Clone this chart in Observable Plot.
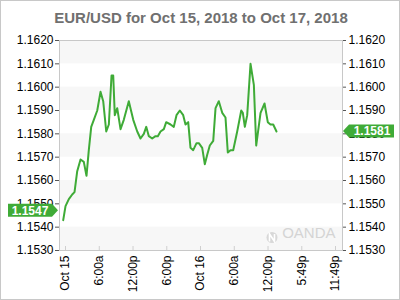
<!DOCTYPE html>
<html>
<head>
<meta charset="utf-8">
<script src="https://cdn.jsdelivr.net/npm/d3@7"></script>
<script src="https://cdn.jsdelivr.net/npm/@observablehq/plot@0.6"></script>
<style>
  html, body { margin: 0; padding: 0; background: #fff; }
  #chart { width: 400px; height: 300px; }
</style>
</head>
<body>
<div id="chart"></div>
<script>
// ---- data (hours since Oct 15 00:00, EUR/USD rate) ----
const title = "EUR/USD for Oct 15, 2018 to Oct 17, 2018";
const hours = [-0.41, 0.0, 0.59, 1.19, 1.6, 2.08, 2.67, 3.25, 3.73, 4.14, 4.57, 5.03, 5.64, 6.22, 6.7, 7.24, 7.7, 8.18, 8.48, 8.76, 9.19, 9.78, 10.36, 11.25, 12.04, 12.75, 13.33, 13.92, 14.35, 14.81, 15.41, 16.0, 16.41, 16.89, 17.48, 17.9, 18.67, 19.25, 19.73, 20.32, 20.92, 21.33, 21.81, 22.22, 22.7, 23.29, 23.7, 24.3, 24.76, 25.19, 25.65, 26.26, 26.67, 27.25, 27.86, 28.44, 28.85, 29.33, 29.81, 30.52, 31.24, 31.52, 31.88, 32.3, 32.89, 33.48, 33.9, 34.67, 35.38, 35.96, 36.44, 36.92, 37.51];
const rates = [1.1543, 1.1549, 1.1552, 1.1554, 1.1555, 1.1564, 1.1569, 1.1568, 1.1562, 1.1573, 1.1583, 1.1586, 1.1590, 1.1598, 1.1594, 1.1581, 1.1584, 1.1605, 1.1605, 1.1588, 1.1591, 1.1582, 1.1586, 1.1594, 1.1586, 1.1581, 1.1578, 1.1580, 1.1583, 1.1579, 1.1578, 1.1579, 1.1579, 1.1581, 1.1582, 1.1585, 1.1584, 1.1583, 1.1588, 1.1590, 1.1588, 1.1584, 1.1585, 1.1574, 1.1573, 1.1576, 1.1576, 1.1574, 1.1567, 1.1571, 1.1575, 1.1577, 1.1591, 1.1594, 1.1589, 1.1587, 1.1572, 1.1573, 1.1573, 1.1581, 1.1590, 1.1589, 1.1583, 1.1588, 1.1610, 1.1601, 1.1575, 1.1589, 1.1593, 1.1585, 1.1584, 1.1584, 1.1581];
const openRate = 1.1547;
const lastRate = 1.1581;
const xTicks = [0, 6, 12, 18, 24, 30, 36, 42, 48];
const xLabels = ["Oct 15", "6:00a", "12:00p", "6:00p", "Oct 16", "6:00a", "12:00p", "5:49p", "11:49p"];
const yTicks = [1.1530, 1.1540, 1.1550, 1.1560, 1.1570, 1.1580, 1.1590, 1.1600, 1.1610, 1.1620];
const xDomain = [-1.07, 49.24];
const yDomain = [1.1530, 1.1620];

const data = hours.map((h, i) => ({h, v: rates[i]}));
const bands = yTicks.slice(0, -1).map((t, i) => ({y1: t, y2: yTicks[i + 1], i})).filter(d => d.i % 2 === 0);

const green = "#3fab37";
const font = "'Liberation Sans', Arial, Helvetica, sans-serif";

const plot = Plot.plot({
  width: 400,
  height: 300,
  marginTop: 40,
  marginBottom: 50,
  marginLeft: 59,
  marginRight: 58,
  style: {fontFamily: font, fontSize: "12px", color: "#000", background: "#fff", overflow: "visible"},
  x: {domain: xDomain, label: null},
  y: {domain: yDomain, label: null},
  marks: [
    Plot.rect(bands, {y1: "y1", y2: "y2", fill: "#f7f7f7"}),
    Plot.text(["OANDA"], {frameAnchor: "bottom-right", textAnchor: "end", dx: -7, dy: -12.5, fill: "#d4d4d4", fontSize: 15}),
    Plot.ruleX(xTicks, {insetTop: 206, stroke: "#cfcfcf"}),
    Plot.frame({stroke: "#c8c8c8"}),
    Plot.axisY(yTicks, {anchor: "left", tickSize: 4, tickPadding: 2, stroke: "#555", tickFormat: d => d.toFixed(4), label: null}),
    Plot.axisY(yTicks, {anchor: "right", tickSize: 3, tickPadding: 3, stroke: "#555", tickFormat: d => d.toFixed(4), label: null}),
    Plot.axisX(xTicks, {anchor: "bottom", tickSize: 0, tickPadding: 5, tickRotate: -90, tickFormat: d => xLabels[xTicks.indexOf(d)], label: null}),
    Plot.line(data, {x: "h", y: "v", stroke: green, strokeWidth: 2}),
    Plot.text([title], {frameAnchor: "top", dy: -28, fontSize: 15, fontWeight: "bold", fill: "#707070"})
  ]
});

document.getElementById("chart").appendChild(plot);

// ---- decorations using the plot's own scales ----
const ys = plot.scale("y");
const svg = d3.select(plot);
const left = 59, right = 400 - 58;

// outer border
svg.insert("rect", ":first-child")
  .attr("x", 0.5).attr("y", 0.5).attr("width", 399).attr("height", 299)
  .attr("fill", "#fff").attr("stroke", "#c8c8c8");

// watermark logo (small circle left of the OANDA text)
const oy = ys.apply(yDomain[0]) - 12.5;
const ox = right - 70;
svg.append("circle").attr("cx", ox).attr("cy", oy).attr("r", 5.5)
  .attr("fill", "#d8d8d8");
svg.append("path").attr("d", `M${ox - 2.5},${oy + 4}V${oy - 3.5}L${ox + 2.5},${oy + 4}V${oy - 3.5}`)
  .attr("fill", "none").attr("stroke", "#fff").attr("stroke-width", 1.6);

function badge(value, side) {
  const yc = ys.apply(value);
  const h = 6.5;
  let d, tx;
  if (side === "left") {
    const tip = left - 1;
    d = `M${tip - 50},${yc - h}H${tip - 6}L${tip},${yc}L${tip - 6},${yc + h}H${tip - 50}Z`;
    tx = tip - 28;
  } else {
    const tip = right + 1;
    d = `M${tip},${yc}L${tip + 6},${yc - h}H${tip + 51}V${yc + h}H${tip + 6}Z`;
    tx = tip + 29;
  }
  const g = svg.append("g");
  g.append("path").attr("d", d).attr("fill", green);
  g.append("text").attr("x", tx).attr("y", yc).attr("dy", "0.36em")
    .attr("text-anchor", "middle").attr("fill", "#fff")
    .attr("font-weight", "bold").attr("font-size", 12).attr("font-family", font)
    .text(value.toFixed(4));
}
badge(openRate, "left");
badge(lastRate, "right");
</script>
</body>
</html>
